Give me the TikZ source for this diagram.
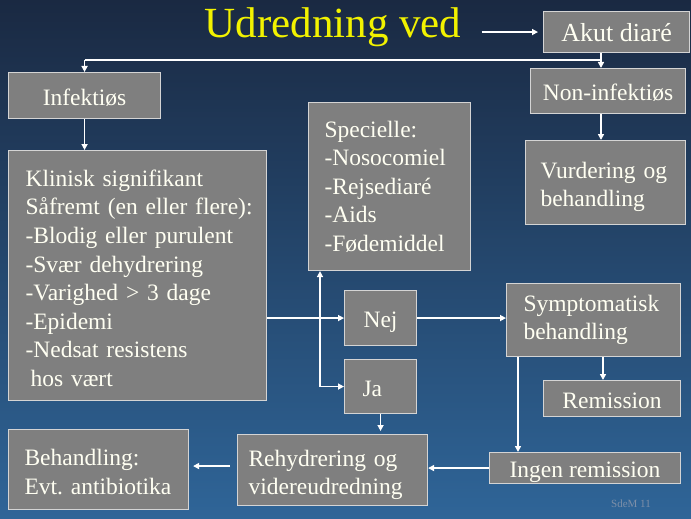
\documentclass[tikz,border=0pt]{standalone}
\usepackage{fontspec}
\setmainfont{Liberation Serif}
\newfontfamily\boxserif{Liberation Serif}
\usetikzlibrary{arrows.meta}
\definecolor{bgtop}{HTML}{1A2942}
\definecolor{bgbot}{HTML}{2F6598}
\definecolor{boxfill}{HTML}{7F7F7F}
\definecolor{boxline}{HTML}{D4D4D4}
\definecolor{txt}{HTML}{FFFFF2}
\definecolor{ttl}{HTML}{F2F200}
\definecolor{sig}{HTML}{7D8FA8}
\tikzset{
  box/.style={draw=boxline, fill=boxfill, line width=1.1pt, text=txt,
    font=\boxserif\fontsize{23.5}{28.6}\selectfont\frenchspacing, inner sep=0pt, anchor=north west},
  cbox/.style={box, text height=25pt, text depth=6pt},
  lbox/.style={box, align=left, inner xsep=#1},
  conn/.style={draw=white, line width=1.8pt},
  arr/.style={conn, -{Triangle[length=6pt,width=6pt]}},
}
\begin{document}
\begin{tikzpicture}[x=1pt,y=-1pt]
\useasboundingbox (0,0) rectangle (691,519);
\fill[top color=bgtop, bottom color=bgbot] (0,0) rectangle (691,519);

\node[text=ttl, font=\boxserif\fontsize{43}{50}\selectfont, anchor=base, inner sep=0pt] (title) at (333,38) {Udredning ved};

\node[cbox, minimum width=146, minimum height=41, font=\boxserif\fontsize{26}{30}\selectfont] (akut) at (543,11) {Akut diaré};
\node[cbox, minimum width=152, minimum height=46] (inf) at (8,72) {Infektiøs};
\node[cbox, minimum width=155, minimum height=45] (noninf) at (530,68) {Non-infektiøs};
\node[lbox=15, text width=130, minimum height=84] (vurd) at (525,140) {\mbox{\rule{0pt}{25pt}Vurdering og}\\\mbox{behandling}};
\node[lbox=16, text width=130, minimum height=168] (spec) at (308,102) {\mbox{Specielle:}\\\mbox{-Nosocomiel}\\\mbox{-Rejsediaré}\\\mbox{-Aids}\\\mbox{-Fødemiddel}};
\node[lbox=17, text width=224, minimum height=250] (klin) at (8,150) {\mbox{\rule{0pt}{22pt}Klinisk signifikant}\\\mbox{Såfremt (en eller flere):}\\\mbox{-Blodig eller purulent}\\\mbox{-Svær dehydrering}\\\mbox{-Varighed > 3 dage}\\\mbox{-Epidemi}\\\mbox{-Nedsat resistens}\\\mbox{\hspace*{5pt}hos vært}};
\node[cbox, minimum width=72, minimum height=55] (nej) at (344,290) {Nej};
\node[lbox=18, text width=36, minimum height=54, text height=25pt, text depth=6pt] (ja) at (344,359) {Ja};
\node[lbox=17, text width=140, minimum height=73] (symp) at (506,283) {\mbox{Symptomatisk}\\\mbox{behandling}};
\node[cbox, minimum width=137, minimum height=36] (rem) at (543,380) {Remission};
\node[cbox, minimum width=191, minimum height=30] (ingen) at (489,452) {Ingen remission};
\node[lbox=11, text width=168, minimum height=71] (rehyd) at (237,434) {\mbox{\rule{0pt}{26pt}Rehydrering og}\\\mbox{videreudredning}};
\node[lbox=16, text width=148, minimum height=80] (behand) at (8,429) {\mbox{\rule{0pt}{21pt}Behandling:}\\\mbox{Evt. antibiotika}};

\node[text=sig, font=\boxserif\fontsize{11}{13}\selectfont, anchor=base, inner sep=0pt] (sdem) at (631,507) {SdeM 11};

\coordinate (c1) at (601,60);
\coordinate (c2) at (320,0);
\coordinate (c3) at (603,0);
\coordinate (c4) at (518,0);

\draw[arr, shorten <=20pt, shorten >=5pt] (title.east |- akut.west) -- (akut.west);
\draw[arr] (c1 |- akut.south) -- (c1 |- noninf.north);
\draw[conn] (inf.north |- c1) -- (c1);
\draw[arr] (inf.north |- c1) -- (inf.north);
\draw[arr] (inf.south) -- (inf.south |- klin.north);
\draw[arr] (c1 |- noninf.south) -- (c1 |- vurd.north);
\draw[arr] (klin.east |- nej.west) -- (nej.west);
\draw[arr] (c2 |- ja.west) -- (c2 |- spec.south);
\draw[arr] (c2 |- ja.west) -- (ja.west);
\draw[arr] (nej.east) -- (nej.east -| symp.west);
\draw[arr] (c3 |- symp.south) -- (c3 |- rem.north);
\draw[arr] (c4 |- symp.south) -- (c4 |- ingen.north);
\draw[arr] (ingen.west) -- (ingen.west -| rehyd.east);
\draw[arr, shorten >=3pt] (ja.south) -- (ja.south |- rehyd.north);
\draw[arr, shorten <=7pt, shorten >=4pt] ([yshift=4pt]rehyd.west) -- ([yshift=4pt]rehyd.west -| behand.east);
\end{tikzpicture}
\end{document}
